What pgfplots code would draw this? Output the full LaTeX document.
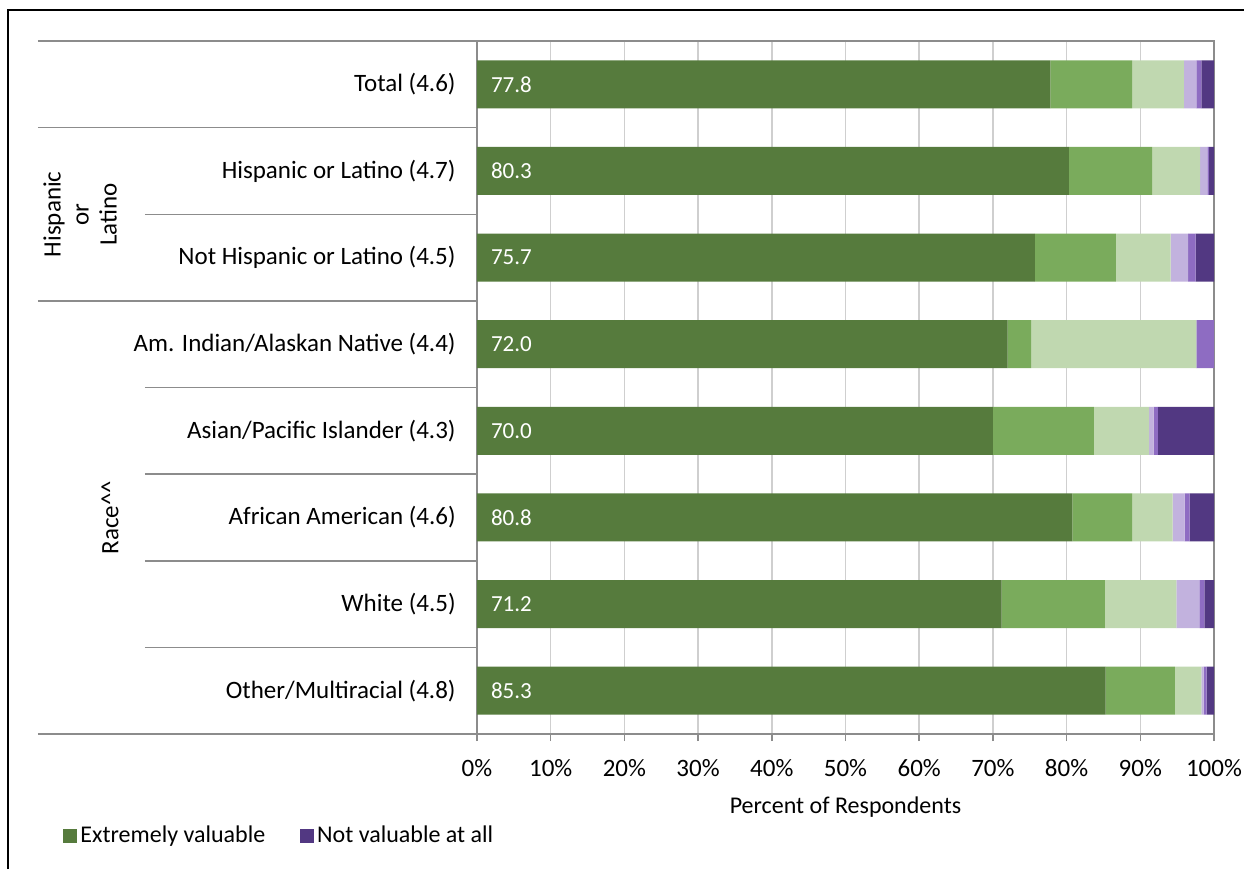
\documentclass[border=0pt]{standalone}
\usepackage{fontspec}
\setmainfont{Carlito}
\usepackage{pgfplots}
\usepackage{pgfplotstable}
\pgfplotsset{compat=1.18}

\definecolor{extreme}{HTML}{567B3D}
\definecolor{very}{HTML}{7AAB5C}
\definecolor{moderate}{HTML}{C0D8B0}
\definecolor{slight}{HTML}{C2B2DE}
\definecolor{little}{HTML}{8E6CC2}
\definecolor{notatall}{HTML}{523882}
\definecolor{gridgray}{HTML}{CFCFCF}
\definecolor{axisgray}{HTML}{8C8C8C}

% Share of respondents (%) per rating, from "extremely" to "not valuable at all"
\pgfplotstableread{
row  v1    v2    v3    v4   v5   v6
0    77.8  11.1  7.0   1.7  0.7  1.7
1    80.3  11.3  6.5   1.0  0.2  0.7
2    75.7  11.0  7.4   2.4  1.0  2.5
3    72.0  3.2   22.4  0.0  2.4  0.0
4    70.0  13.7  7.5   0.6  0.6  7.6
5    80.8  8.1   5.5   1.6  0.7  3.3
6    71.2  14.0  9.7   3.1  0.7  1.3
7    85.3  9.4   3.6   0.3  0.4  1.0
}\valtable

\begin{document}
\begin{tikzpicture}[font=\fontsize{12.5}{14}\selectfont]
\path[use as bounding box, fill=white] (0,0) rectangle (622pt,434.5pt);
% outer frame (left and top edges)
\draw[line width=1pt] (4pt,0) -- (4pt,429.5pt) -- (622pt,429.5pt);

\pgfplotsset{panel/.style={
  at={(238.5pt,67.5pt)}, anchor=south west,
  scale only axis, width=368.5pt, height=346.5pt,
  xmin=0, xmax=100, ymin=-0.5, ymax=7.5, y dir=reverse,
}}

\begin{axis}[
  panel,
  xbar stacked, bar width=24pt,
  xtick={0,10,20,30,40,50,60,70,80,90,100},
  xticklabels={0\%,10\%,20\%,30\%,40\%,50\%,60\%,70\%,80\%,90\%,100\%},
  ytick={0,1,2,3,4,5,6,7},
  yticklabels={Total (4.6),Hispanic or Latino (4.7),Not Hispanic or Latino (4.5),
    Am. Indian/Alaskan Native (4.4),Asian/Pacific Islander (4.3),
    African American (4.6),White (4.5),Other/Multiracial (4.8)},
  xmajorgrids, major grid style={draw=gridgray, line width=0.75pt},
  axis line style={draw=axisgray, line width=0.75pt},
  xtick style={draw=axisgray, line width=0.75pt},
  ytick style={draw=none},
  tick align=outside, xtick pos=bottom, major tick length=3.5pt,
  yticklabel style={anchor=east, inner sep=0pt, xshift=-7pt},
  xticklabel style={inner sep=0pt, yshift=-9pt},
  xlabel={Percent of Respondents},
  xlabel style={inner sep=0pt, yshift=-10pt, font=\fontsize{12}{14}\selectfont},
  clip=false,
  legend columns=2,
  legend style={at={(-0.5617,-0.1472)}, anchor=west, draw=none, fill=none,
    inner sep=0pt, font=\fontsize{12}{14}\selectfont,
    nodes={inner xsep=1.5pt, inner ysep=0pt},
    /tikz/every even column/.append style={column sep=16pt}},
  legend cell align=left,
  legend image code/.code={\fill[#1] (0pt,-3.5pt) rectangle (7pt,3.5pt);},
]
\addplot[fill=extreme, draw=none] table[x=v1, y=row] {\valtable};
\addlegendentry{Extremely valuable}
\addplot[fill=very, draw=none, forget plot] table[x=v2, y=row] {\valtable};
\addplot[fill=moderate, draw=none, forget plot] table[x=v3, y=row] {\valtable};
\addplot[fill=slight, draw=none, forget plot] table[x=v4, y=row] {\valtable};
\addplot[fill=little, draw=none, forget plot] table[x=v5, y=row] {\valtable};
\addplot[fill=notatall, draw=none] table[x=v6, y=row] {\valtable};
\addlegendentry{Not valuable at all}

% row separators in the label column
\foreach \yy/\sh in {-0.5/219.5, 0.5/219.5, 1.5/166, 2.5/219.5, 3.5/166,
                     4.5/166, 5.5/166, 6.5/166, 7.5/219.5} {
  \edef\tmp{\noexpand\draw[axisgray, line width=0.75pt]
    ([xshift=-\sh pt]axis cs:0,\yy) -- (axis cs:0,\yy);}
  \tmp
}
% group labels
\node[rotate=90, align=center, inner sep=0pt] at ([xshift=-198.5pt]axis cs:0,1.5)
  {Hispanic\\or\\Latino};
\node[rotate=90, inner sep=0pt] at ([xshift=-183.5pt]axis cs:0,5)
  {Race\textasciicircum\textasciicircum};
\end{axis}

% value of the first segment, written at the start of each bar
\begin{axis}[panel, hide axis, clip=false]
\addplot[draw=none, mark=none, point meta=explicit,
  nodes near coords={\pgfmathprintnumber[fixed, fixed zerofill, precision=1,
    assume math mode=true]{\pgfplotspointmeta}},
  every node near coord/.append style={anchor=west, xshift=3.5pt, text=white,
    font=\fontsize{11.5}{13}\selectfont}]
  table[x expr=0, y=row, meta=v1] {\valtable};
\end{axis}
\end{tikzpicture}
\end{document}
